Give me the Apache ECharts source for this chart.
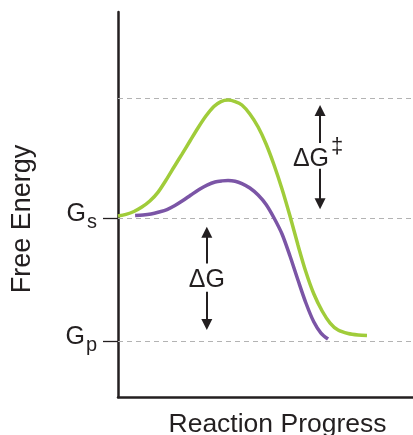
<!DOCTYPE html>
<html>
<head>
<meta charset="utf-8">
<script src="https://cdn.jsdelivr.net/npm/echarts@6/dist/echarts.min.js"></script>
<style>html,body{margin:0;padding:0;background:#fff}#c{width:413px;height:435px}</style>
</head>
<body>
<div id="c"></div>
<script>
// Reaction progress (0-100) and free energy (Gp = 0, Gs = 10)
const greenProgress = [0, 2.7, 5.4, 8.1, 10.8, 13.6, 16.3, 19.0, 21.7, 24.4, 27.1, 29.8, 32.5, 34.9, 37.3, 39.7,
                       42.0, 44.7, 47.5, 50.2, 52.9, 55.6, 58.3, 61.0, 63.7, 66.4, 69.2, 71.9, 74.6, 78.0, 81.4, 84.4];
const greenEnergy   = [10.16, 10.30, 10.53, 10.89, 11.38, 12.11, 13.09, 14.15, 15.20, 16.26, 17.32, 18.29, 19.07, 19.47, 19.59, 19.47,
                       19.19, 18.46, 17.40, 16.02, 14.31, 12.36, 10.16, 7.80, 5.61, 3.82, 2.44, 1.46, 0.89, 0.61, 0.49, 0.45];
const purpleProgress = [5.8, 8.5, 11.2, 13.9, 16.6, 19.3, 22.0, 24.7, 27.5, 30.2, 32.9, 35.3, 37.3,
                        39.7, 42.0, 44.7, 47.5, 50.2, 52.9, 55.6, 58.3, 61.0, 63.7, 66.4, 68.8, 71.2];
const purpleEnergy   = [10.20, 10.24, 10.33, 10.49, 10.69, 11.02, 11.42, 11.87, 12.32, 12.68, 12.93, 13.02, 13.05,
                        12.99, 12.80, 12.44, 11.87, 11.10, 10.00, 8.70, 6.91, 4.96, 3.09, 1.54, 0.65, 0.16];
const levelValues = [19.75, 10, 0];          // transition state, Gs, Gp
const tickValues = [0, 10];
const tickLabels = {0: 'p', 10: 's'};
// arrows: [x, tipTop, gapTop, gapBottom, tipBottom, labelY]
const arrowTS = [68.5, 18.75, 16.1, 14.0, 11.15, 14.75];
const arrowG  = [30.1, 8.85, 6.3, 4.0, 1.35, 4.95];

const INK = '#231f20';
const FONT = '"Liberation Sans", Arial, Helvetica, sans-serif';
const zip = (a, b) => a.map((v, i) => [v, b[i]]);

function arrowLines(a) {
  return [
    {coords: [[a[0], a[2]], [a[0], a[1]]]},
    {coords: [[a[0], a[3]], [a[0], a[4]]]}
  ];
}

const chart = echarts.init(document.getElementById('c'), null, {renderer: 'canvas'});
chart.setOption({
  animation: false,
  grid: {left: 118, right: 0, top: 12, bottom: 38, containLabel: false, outerBoundsMode: 'none'},
  xAxis: {
    type: 'value', min: 0, max: 100,
    axisLine: {show: true, onZero: false, lineStyle: {color: INK, width: 2.5}},
    axisTick: {show: false}, axisLabel: {show: false}, splitLine: {show: false},
    name: 'Reaction Progress', nameLocation: 'middle', nameGap: 14,
    nameTextStyle: {fontSize: 26.5, color: INK, fontFamily: FONT, verticalAlign: 'top', padding: [0, 0, 0, 24]}
  },
  yAxis: {
    type: 'value', min: -4.553, max: 26.75,
    axisLine: {show: true, onZero: false, lineStyle: {color: INK, width: 2.5}},
    axisTick: {show: true, customValues: tickValues, length: 15, lineStyle: {color: INK, width: 1.3}},
    axisLabel: {
      show: true, customValues: tickValues, margin: 21,
      formatter: v => '{g|G}{s|' + tickLabels[v] + '}',
      rich: {
        g: {fontSize: 25, color: INK, fontFamily: FONT, padding: [0, 0, 7, 0]},
        s: {fontSize: 20, color: INK, fontFamily: FONT, padding: [8, 0, 0, 1]}
      }
    },
    splitLine: {show: false},
    name: 'Free Energy', nameLocation: 'middle', nameGap: 82, nameRotate: 90,
    nameTextStyle: {fontSize: 27, color: INK, fontFamily: FONT, padding: [0, 29, 0, 0]}
  },
  series: [
    {
      type: 'line', data: zip(greenProgress, greenEnergy), smooth: 0.3, showSymbol: false,
      lineStyle: {color: '#a0cc3a', width: 3.5}, z: 3,
      markLine: {
        silent: true, symbol: 'none', label: {show: false},
        lineStyle: {color: '#b3b3b3', type: [5, 4], width: 1.2},
        data: levelValues.map(v => ({yAxis: v})), z: 1
      }
    },
    {
      type: 'line', data: zip(purpleProgress, purpleEnergy), smooth: 0.3, showSymbol: false,
      lineStyle: {color: '#7b55a6', width: 3.5}, z: 4
    },
    {
      type: 'lines', coordinateSystem: 'cartesian2d', polyline: false,
      symbol: ['none', 'triangle'], symbolSize: [9, 11],
      lineStyle: {color: INK, width: 2, opacity: 1},
      data: arrowLines(arrowTS).concat(arrowLines(arrowG)), z: 5
    },
    {
      type: 'scatter', symbolSize: 0, silent: true, z: 6,
      itemStyle: {opacity: 1, color: INK},
      data: [[arrowTS[0], arrowTS[5]], [arrowG[0], arrowG[5]]],
      label: {
        show: true, position: 'inside', color: INK, opacity: 1, fontFamily: FONT, textBorderWidth: 0,
        formatter: p => p.dataIndex === 0 ? '{d|ΔG}{s|‡}' : '{d|ΔG}',
        rich: {
          d: {fontSize: 25, color: INK, fontFamily: FONT, textBorderWidth: 0},
          s: {fontSize: 22, color: INK, fontFamily: FONT, textBorderWidth: 0, padding: [0, 0, 26, 2]}
        }
      },
      labelLayout: p => p.dataIndex === 0 ? {dx: -2} : {}
    }
  ]
});
</script>
</body>
</html>
